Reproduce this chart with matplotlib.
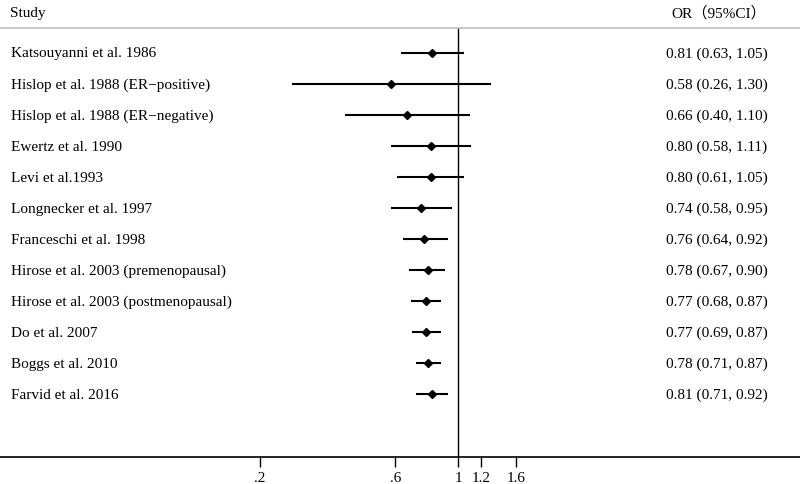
import matplotlib

matplotlib.use("Agg")

import matplotlib.pyplot as plt
from matplotlib.ticker import FixedLocator, FixedFormatter, NullLocator

FUENTE = ["Liberation Serif", "Noto Sans CJK SC"]

estudios = [
    "Katsouyanni et al. 1986",
    "Hislop et al. 1988 (ER\u2212positive)",
    "Hislop et al. 1988 (ER\u2212negative)",
    "Ewertz et al. 1990",
    "Levi et al.1993",
    "Longnecker et al. 1997",
    "Franceschi et al. 1998",
    "Hirose et al. 2003 (premenopausal)",
    "Hirose et al. 2003 (postmenopausal)",
    "Do et al. 2007",
    "Boggs et al. 2010",
    "Farvid et al. 2016",
]
or_ = [0.81, 0.58, 0.66, 0.80, 0.80, 0.74, 0.76, 0.78, 0.77, 0.77, 0.78, 0.81]
ic_inf = [0.63, 0.26, 0.40, 0.58, 0.61, 0.58, 0.64, 0.67, 0.68, 0.69, 0.71, 0.71]
ic_sup = [1.05, 1.30, 1.10, 1.11, 1.05, 0.95, 0.92, 0.90, 0.87, 0.87, 0.87, 0.92]

ticks = [0.2, 0.6, 1, 1.2, 1.6]
tick_labels = [".2", ".6", "1", "1.2", "1.6"]

fig = plt.figure(figsize=(8, 4.84), dpi=100)
# eje a lo ancho de toda la figura, como en Stata
ax = fig.add_axes([0, (484 - 456.7) / 484, 1, (456.7 - 28) / 484])
ax.set_xscale("log")
ax.set_xlim(0.02445, 15.91)
ax.set_ylim(13.02, -0.796)

trans = ax.get_yaxis_transform()
for i in range(len(estudios)):
    ax.plot([ic_inf[i], ic_sup[i]], [i, i], color="black", lw=1.5,
            solid_capstyle="butt", zorder=2)
    ax.plot(or_[i], i, marker="D", ms=4.0, color="black", zorder=3)
    ax.text(11 / 800, i + 0.04, estudios[i], transform=trans,
            ha="left", va="center", fontsize=11, family=FUENTE)
    ax.text(666.5 / 800, i + 0.04,
            f"{or_[i]:.2f} ({ic_inf[i]:.2f}, {ic_sup[i]:.2f})",
            transform=trans, ha="left", va="center",
            fontsize=11, family=FUENTE)

ax.axvline(1, color="black", lw=1.0, zorder=1)

for lado in ("left", "right"):
    ax.spines[lado].set_visible(False)
ax.spines["top"].set_color("#c0c0c0")
ax.spines["top"].set_linewidth(1.2)
ax.spines["bottom"].set_linewidth(1.2)

ax.xaxis.set_major_locator(FixedLocator(ticks))
ax.xaxis.set_major_formatter(FixedFormatter(tick_labels))
ax.xaxis.set_minor_locator(NullLocator())
ax.tick_params(axis="x", direction="out", length=7, width=1.0, pad=4, labelsize=11)
for t in ax.get_xticklabels():
    t.set_family(FUENTE)
ax.set_yticks([])

fig.text(10 / 800, 1 - 13 / 484, "Study", ha="left", va="center",
         fontsize=11, family=FUENTE)
fig.text(671 / 800, 1 - 13 / 484, "OR\uff0895%CI\uff09", ha="left", va="center",
         fontsize=11, family=FUENTE)

fig.savefig("out.png", dpi=100)
